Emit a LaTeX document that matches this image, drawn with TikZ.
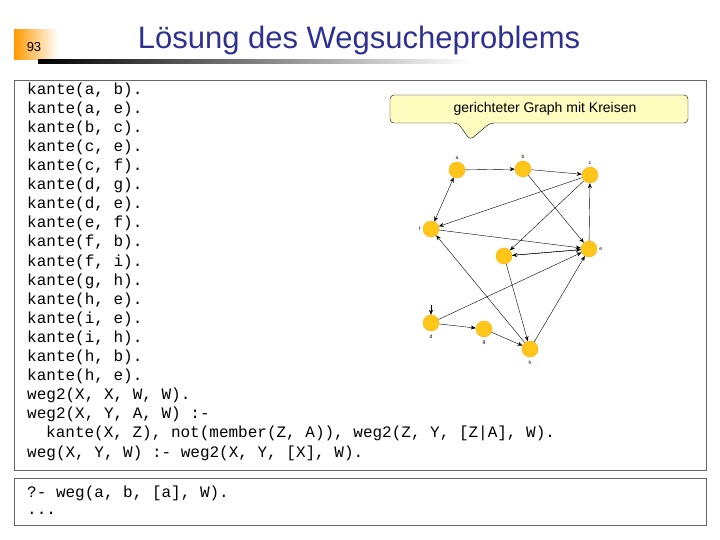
\documentclass[tikz,border=0pt]{standalone}
\usepackage{fontspec}
\setmainfont{Liberation Sans}
\setmonofont{Liberation Mono}
\usetikzlibrary{arrows.meta,positioning}
\definecolor{ttl}{HTML}{2E3192}
\definecolor{nd}{HTML}{FFC61A}
\begin{document}
\begin{tikzpicture}[x=1pt,y=-1pt,
 code/.style={anchor=west,inner sep=0,font=\ttfamily\fontsize{16}{16}\selectfont},
 v/.style={circle,fill=nd,draw=nd!70!orange,minimum size=16pt,inner sep=0},
 lab/.style={font=\fontsize{5}{5}\selectfont,inner sep=1pt},
 e/.style={-{Stealth[length=5pt,width=4pt]},thin}]
\useasboundingbox (0,0) rectangle (720,540);
\shade[left color=orange!80!yellow,right color=white] (14,30) rectangle (58,60);
\node[font=\fontsize{13}{13}\selectfont,inner sep=0] (num) at (34,47) {93};
\shade[left color=black,right color=white] (38,60) rectangle (470,64);
\node[font=\fontsize{31}{31}\selectfont,text=ttl,inner sep=0] (title) at (359,40) {Lösung des Wegsucheproblems};
\draw[gray!80!black] (14,80) rectangle (706,470);
\draw[gray!80!black] (14,478) rectangle (706,525);
\foreach \t [count=\i from 0] in {{kante(a, b).},{kante(a, e).},{kante(b, c).},{kante(c, e).},{kante(c, f).},{kante(d, g).},{kante(d, e).},{kante(e, f).},{kante(f, b).},{kante(f, i).},{kante(g, h).},{kante(h, e).},{kante(i, e).},{kante(i, h).},{kante(h, b).},{kante(h, e).},{weg2(X, X, W, W).},{weg2(X, Y, A, W) :-}}
  \node[code] (c\i) at (27,90+19.1*\i) {\t};
\node[code] (c18) at (46,90+19.1*18) {kante(X, Z), not(member(Z, A)), weg2(Z, Y, [Z|A], W).};
\node[code] (c19) at (27,90+19.1*19) {weg(X, Y, W) :- weg2(X, Y, [X], W).};
\node[code] (q1) at (27,493) {?- weg(a, b, [a], W).};
\node[code] (q2) at (27,513) {...};
% callout
\draw[fill=yellow!25,rounded corners=4pt] (390,95) -- (688,95) -- (688,123) -- (490,123) -- (470,140) -- (458,123) -- (390,123) -- cycle;
\node[font=\fontsize{14}{14}\selectfont,inner sep=0] (cap) at (545,109) {gerichteter Graph mit Kreisen};
% graph
\node[v] (a) at (457,170) {}; \node[lab,above=1pt of a] {a};
\node[v] (b) at (523,169) {}; \node[lab,above=1pt of b] {b};
\node[v] (c) at (590,175) {}; \node[lab,above=1pt of c] {c};
\node[v] (f) at (431,229) {}; \node[lab,left=1pt of f] {f};
\node[v] (i) at (504,256) {};
\node[v] (ee) at (589,249) {}; \node[lab,right=1pt of ee] {e};
\node[v] (d) at (431,323) {}; \node[lab,below=2pt of d] {d};
\node[v] (g) at (484,329) {}; \node[lab,below=2pt of g] {g};
\node[v] (h) at (530,349) {}; \node[lab,below=2pt of h] {h};
\draw[e,{Stealth[length=5pt,width=4pt]}-{Stealth[length=5pt,width=4pt]}] (a) -- (f);
\draw[e] (a) -- (b);
\draw[e] (b) -- (c);
\draw[e] (b) -- (ee);
\draw[e] (c) -- (f);
\draw[e] (c) -- (i);
\draw[e] (f) -- (ee);
\draw[e] (i) -- (ee);
\draw[e] (ee) -- (i);
\draw[e] (ee) -- (c);
\draw[e] (d) -- (ee);
\draw[e] (d) -- (g);
\draw[e] (g) -- (h);
\draw[e] (i) -- (h);
\draw[e] (h) -- (ee);
\draw[e] (h) -- (f);
\coordinate (din) at (431,305);
\draw[e] (din) -- (d);
\end{tikzpicture}
\end{document}
